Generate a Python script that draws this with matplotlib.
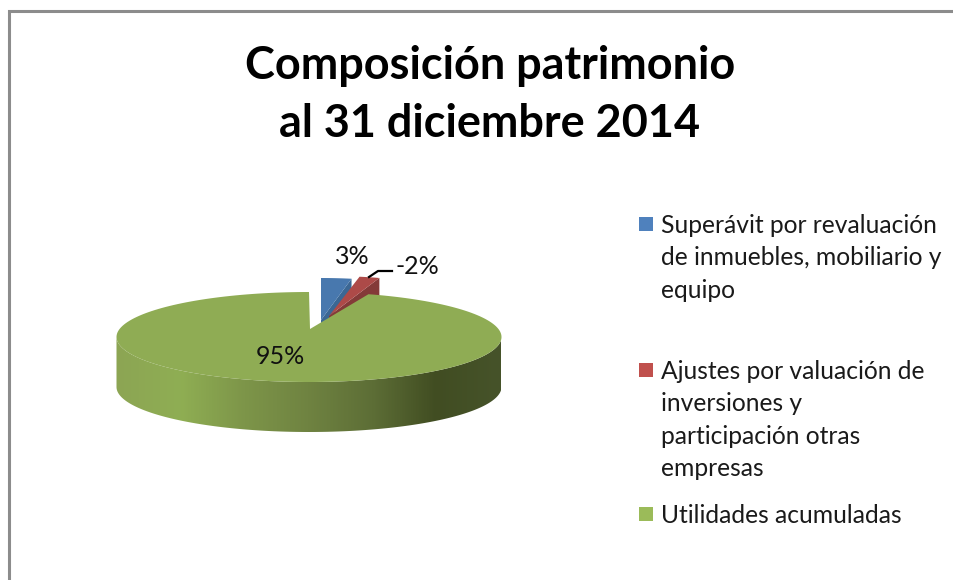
import numpy as np
import matplotlib
matplotlib.use("Agg")
import matplotlib.pyplot as plt
from matplotlib.colors import LinearSegmentedColormap
from matplotlib.patches import Polygon

# Data
labels = ["Superávit por revaluación\nde inmuebles, mobiliario y\nequipo",
          "Ajustes por valuación de\ninversiones y\nparticipación otras\nempresas",
          "Utilidades acumuladas"]
shares = [3, 2, 95]
pct_labels = ["3%", "-2%", "95%"]
title = "Composición patrimonio\nal 31 diciembre 2014"

top_colors = ["#4878ae", "#ad4a48", "#8fac54"]
wall_colors = ["#3b6794", "#843a38"]
legend_colors = ["#4f81bd", "#c0504d", "#9bbb59"]
wall_stops = ["#8ca554", "#8fae53", "#7d9549", "#6f8341", "#5d6e36", "#414d22", "#46532a"]

plt.rcParams["font.family"] = ["Lato", "DejaVu Sans"]

fig = plt.figure(figsize=(9.54, 5.8), dpi=100)
ax = fig.add_axes([0, 0, 1, 1])


def arc(t0, t1, cx, cy, rx, ry):
    # angles in degrees, clockwise from 12 o'clock
    t = np.radians(np.linspace(t0, t1, 200))
    return np.column_stack([cx + rx * np.sin(t), cy - ry * np.cos(t)])


edges = np.cumsum([0] + shares) * 3.6

# Small exploded slices, with the dark cut face under each one
small = [(321, 320, 163, 42, 10), (329, 316, 163, 40, 18)]
for i, (ax0, ay0, rx, ry, drop) in enumerate(small):
    pts = arc(edges[i], edges[i + 1], ax0, ay0, rx, ry)
    tip = pts[-1]
    face = [tip, [tip[0], tip[1] + drop], [ax0, ay0 + drop], [ax0, ay0]]
    ax.add_patch(Polygon(face, closed=True, fc=wall_colors[i], ec="none", zorder=2 + i))
    ax.add_patch(Polygon(np.vstack([[ax0, ay0], pts]), closed=True,
                         fc=top_colors[i], ec="none", zorder=2 + i))

# Green slice: wall with horizontal gradient, then the top surface
cx, cy, rx, ry, depth = 309, 337, 192.5, 45, 50
upper = arc(90, 270, cx, cy, rx, ry)
lower = upper[::-1] + [0, depth]
wall = Polygon(np.vstack([upper, lower]), closed=True, fc="none", ec="none")
ax.add_patch(wall)
cmap = LinearSegmentedColormap.from_list("wall", wall_stops)
grad = ax.imshow(np.linspace(0, 1, 400).reshape(1, -1), cmap=cmap, aspect="auto",
                 extent=[cx - rx, cx + rx, cy + ry + depth, cy - ry], zorder=3)
grad.set_clip_path(wall)

green = np.vstack([[cx + 1, cy - 8], arc(edges[2], edges[3], cx, cy, rx, ry)])
ax.add_patch(Polygon(green, closed=True, fc=top_colors[2], ec="none", zorder=5))

# Data labels and leader line
ax.text(352, 257, pct_labels[0], fontsize=18, ha="center", va="center", color="#111111", zorder=6)
ax.text(417, 267, pct_labels[1], fontsize=18, ha="center", va="center", color="#111111", zorder=6)
ax.text(280, 357, pct_labels[2], fontsize=18, ha="center", va="center", color="#111111", zorder=6)
ax.plot([369, 378, 392], [277, 271, 271], color="black", lw=1.6, zorder=6)

# Title
ax.text(490, 95, title, fontsize=32.4, fontweight="bold", ha="center", va="center",
        linespacing=1.47, color="black")

# Legend
legend_y = [224, 370, 514]
for lab, col, y in zip(labels, legend_colors, legend_y):
    ax.add_patch(Polygon([[639, y - 7], [653, y - 7], [653, y + 7], [639, y + 7]],
                         closed=True, fc=col, ec="none"))
    ax.text(661, y - 10, lab, fontsize=17.7, ha="left", va="top", linespacing=1.49,
            color="#1a1a1a")

# Chart frame (only top and left visible)
ax.plot([9.5, 9.5, 954], [580, 11, 11], color="#8c8c8c", lw=2.2, solid_joinstyle="miter")

ax.set_xlim(0, 954)
ax.set_ylim(580, 0)
ax.axis("off")

fig.savefig("out.png", dpi=100)
